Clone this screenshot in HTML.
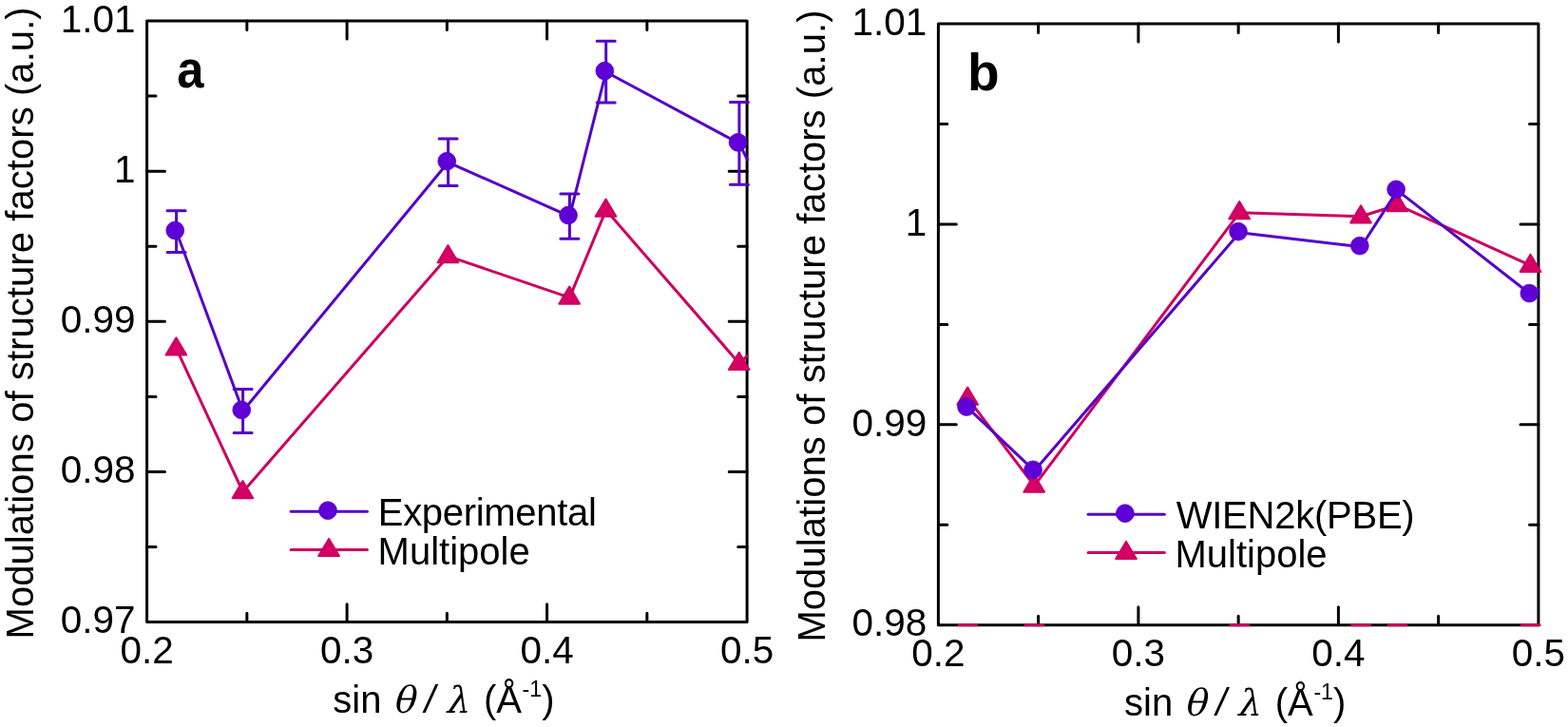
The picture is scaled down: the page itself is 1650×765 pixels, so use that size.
<!DOCTYPE html>
<html lang="en"><head><meta charset="utf-8"><title>Modulations of structure factors</title>
<style>html,body{margin:0;padding:0;background:#fff}body{width:1650px;height:765px;overflow:hidden}svg{display:block}text{font-family:"Liberation Sans",Arial,Helvetica,sans-serif;font-size:40px;fill:#000}.gi{font-family:"DejaVu Math TeX Gyre","DejaVu Serif",serif;font-style:italic;font-size:38.5px}.si{font-style:italic}.tk{font-size:40.5px}.pl{font-weight:bold;font-size:55px}</style></head><body>
<svg width="1650" height="765" viewBox="0 0 1650 765">
<rect width="1650" height="765" fill="#fff"/>
<g id="panel-a">
<path d="M365.10 654.6v-18.9M365.10 22.0v18.9M575.60 654.6v-18.9M575.60 22.0v18.9M259.85 654.6v-9.4M259.85 22.0v9.4M470.35 654.6v-9.4M470.35 22.0v9.4M680.85 654.6v-9.4M680.85 22.0v9.4M154.6 575.52h9.4M786.1 575.52h-9.4M154.6 496.45h18.9M786.1 496.45h-18.9M154.6 417.38h9.4M786.1 417.38h-9.4M154.6 338.30h18.9M786.1 338.30h-18.9M154.6 259.23h9.4M786.1 259.23h-9.4M154.6 180.15h18.9M786.1 180.15h-18.9M154.6 101.08h9.4M786.1 101.08h-9.4" fill="none" stroke="#000" stroke-width="3.0" stroke-linecap="round"/>
<rect x="154.6" y="22.0" width="631.50" height="632.60" fill="none" stroke="#000" stroke-width="3.0" stroke-linejoin="round"/>
<text x="154.60" y="698.3" text-anchor="middle" class="tk">0.2</text>
<text x="365.10" y="698.3" text-anchor="middle" class="tk">0.3</text>
<text x="575.60" y="698.3" text-anchor="middle" class="tk">0.4</text>
<text x="786.10" y="698.3" text-anchor="middle" class="tk">0.5</text>
<text x="142.6" y="666.30" text-anchor="end" class="tk">0.97</text>
<text x="142.6" y="508.15" text-anchor="end" class="tk">0.98</text>
<text x="142.6" y="350.00" text-anchor="end" class="tk">0.99</text>
<text x="142.6" y="191.85" text-anchor="end" class="tk">1</text>
<text x="142.6" y="33.70" text-anchor="end" class="tk">1.01</text>
<text transform="translate(35.2 339.9) rotate(-90)" text-anchor="middle" textLength="665.2">Modulations of structure factors (a.u.)</text>
<text y="749.6"><tspan x="350.3">sin </tspan><tspan x="411.4" class="gi">θ </tspan><tspan x="446.8" class="si">/ </tspan><tspan x="466.3" class="gi">λ </tspan><tspan x="509">(Å</tspan><tspan x="549.6" y="733.1" style="font-size:23.2px">-1</tspan><tspan x="570.3" y="749.6">)</tspan></text>
<text x="186.2" y="91.8" class="pl" textLength="28.2" lengthAdjust="spacingAndGlyphs">a</text>
<path d="M185.60 366.95L255.60 517.60L471.60 269.60L599.40 313.10L637.70 221.10L777.90 382.40L787.10 373.75" fill="none" stroke="#cc0060" stroke-width="3" stroke-linejoin="round" stroke-linecap="butt"/>
<path d="M185.40 355.35L196.25 373.55H174.55Z" fill="#d60064" stroke="#cc0060" stroke-width="2.0" stroke-linejoin="round"/><path d="M255.40 506.00L266.25 524.20H244.55Z" fill="#d60064" stroke="#cc0060" stroke-width="2.0" stroke-linejoin="round"/><path d="M471.40 258.00L482.25 276.20H460.55Z" fill="#d60064" stroke="#cc0060" stroke-width="2.0" stroke-linejoin="round"/><path d="M599.20 301.50L610.05 319.70H588.35Z" fill="#d60064" stroke="#cc0060" stroke-width="2.0" stroke-linejoin="round"/><path d="M637.50 209.50L648.35 227.70H626.65Z" fill="#d60064" stroke="#cc0060" stroke-width="2.0" stroke-linejoin="round"/><path d="M777.70 370.80L788.55 389.00H766.85Z" fill="#d60064" stroke="#cc0060" stroke-width="2.0" stroke-linejoin="round"/>
<path d="M185.60 221.80V265.40M176.10 221.80h19M176.10 265.40h19M255.60 409.50V455.50M246.10 409.50h19M246.10 455.50h19M471.60 146.10V195.50M462.10 146.10h19M462.10 195.50h19M599.40 203.90V251.30M589.90 203.90h19M589.90 251.30h19M637.70 43.30V108.10M628.20 43.30h19M628.20 108.10h19M777.90 107.50V194.30M768.40 107.50h19M768.40 194.30h19" fill="none" stroke="#5500c8" stroke-width="3" stroke-linecap="round"/>
<path d="M185.60 243.60L255.60 432.50L471.60 170.80L599.40 227.60L637.70 75.70L777.90 150.90L787.10 169.30" fill="none" stroke="#5500c8" stroke-width="3" stroke-linejoin="round" stroke-linecap="butt"/>
<circle cx="184.25" cy="242.50" r="9.4" fill="#5f00d6" stroke="#5500c8" stroke-width="0.8"/><circle cx="254.25" cy="431.40" r="9.4" fill="#5f00d6" stroke="#5500c8" stroke-width="0.8"/><circle cx="470.25" cy="169.70" r="9.4" fill="#5f00d6" stroke="#5500c8" stroke-width="0.8"/><circle cx="598.05" cy="226.50" r="9.4" fill="#5f00d6" stroke="#5500c8" stroke-width="0.8"/><circle cx="636.35" cy="74.60" r="9.4" fill="#5f00d6" stroke="#5500c8" stroke-width="0.8"/><circle cx="776.55" cy="149.80" r="9.4" fill="#5f00d6" stroke="#5500c8" stroke-width="0.8"/>
<path d="M306.2 538.2H386.4" stroke="#5500c8" stroke-width="3" stroke-linecap="round"/>
<circle cx="345.00" cy="537.20" r="9.4" fill="#5f00d6" stroke="#5500c8" stroke-width="0.8"/>
<path d="M306.2 578.5H386.4" stroke="#cc0060" stroke-width="3" stroke-linecap="round"/>
<path d="M346.10 566.90L356.95 585.10H335.25Z" fill="#d60064" stroke="#cc0060" stroke-width="2.0" stroke-linejoin="round"/>
<text x="397.8" y="552.9" textLength="230.1">Experimental</text>
<text x="397.6" y="593.5">Multipole</text>
</g>
<g id="panel-b" transform="translate(832.8 3.1)">
<path d="M365.10 654.6v-18.9M365.10 22.0v18.9M575.60 654.6v-18.9M575.60 22.0v18.9M259.85 654.6v-9.4M259.85 22.0v9.4M470.35 654.6v-9.4M470.35 22.0v9.4M680.85 654.6v-9.4M680.85 22.0v9.4M154.6 549.17h9.4M786.1 549.17h-9.4M154.6 443.73h18.9M786.1 443.73h-18.9M154.6 338.30h9.4M786.1 338.30h-9.4M154.6 232.87h18.9M786.1 232.87h-18.9M154.6 127.43h9.4M786.1 127.43h-9.4" fill="none" stroke="#000" stroke-width="3.0" stroke-linecap="round"/>
<rect x="154.6" y="22.0" width="631.50" height="632.60" fill="none" stroke="#000" stroke-width="3.0" stroke-linejoin="round"/>
<text x="154.60" y="698.3" text-anchor="middle" class="tk">0.2</text>
<text x="365.10" y="698.3" text-anchor="middle" class="tk">0.3</text>
<text x="575.60" y="698.3" text-anchor="middle" class="tk">0.4</text>
<text x="786.10" y="698.3" text-anchor="middle" class="tk">0.5</text>
<text x="142.6" y="666.30" text-anchor="end" class="tk">0.98</text>
<text x="142.6" y="455.43" text-anchor="end" class="tk">0.99</text>
<text x="142.6" y="244.57" text-anchor="end" class="tk">1</text>
<text x="142.6" y="33.70" text-anchor="end" class="tk">1.01</text>
<text transform="translate(35.2 339.9) rotate(-90)" text-anchor="middle" textLength="665.2">Modulations of structure factors (a.u.)</text>
<text y="749.6"><tspan x="350.3">sin </tspan><tspan x="411.4" class="gi">θ </tspan><tspan x="446.8" class="si">/ </tspan><tspan x="466.3" class="gi">λ </tspan><tspan x="509">(Å</tspan><tspan x="549.6" y="733.1" style="font-size:23.2px">-1</tspan><tspan x="570.3" y="749.6">)</tspan></text>
<text x="185.3" y="91.6" class="pl">b</text>
<path d="M176.20 654.6h18.8M246.20 654.6h18.8M462.20 654.6h18.8M590.00 654.6h18.8M628.30 654.6h18.8M768.50 654.6h18.8" stroke="#cc0060" stroke-width="3" stroke-linecap="round"/>
<path d="M185.60 416.00L255.60 508.00L471.60 220.60L599.40 224.70L637.70 212.60L777.90 276.30" fill="none" stroke="#cc0060" stroke-width="3" stroke-linejoin="round" stroke-linecap="butt"/>
<path d="M185.40 404.40L196.25 422.60H174.55Z" fill="#d60064" stroke="#cc0060" stroke-width="2.0" stroke-linejoin="round"/><path d="M255.40 496.40L266.25 514.60H244.55Z" fill="#d60064" stroke="#cc0060" stroke-width="2.0" stroke-linejoin="round"/><path d="M471.40 209.00L482.25 227.20H460.55Z" fill="#d60064" stroke="#cc0060" stroke-width="2.0" stroke-linejoin="round"/><path d="M599.20 213.10L610.05 231.30H588.35Z" fill="#d60064" stroke="#cc0060" stroke-width="2.0" stroke-linejoin="round"/><path d="M637.50 201.00L648.35 219.20H626.65Z" fill="#d60064" stroke="#cc0060" stroke-width="2.0" stroke-linejoin="round"/><path d="M777.70 264.70L788.55 282.90H766.85Z" fill="#d60064" stroke="#cc0060" stroke-width="2.0" stroke-linejoin="round"/>
<path d="M185.60 426.00L255.60 492.30L471.60 241.70L599.40 256.70L637.70 197.30L777.90 306.60L787.10 301.08" fill="none" stroke="#5500c8" stroke-width="3" stroke-linejoin="round" stroke-linecap="butt"/>
<circle cx="184.25" cy="424.90" r="9.4" fill="#5f00d6" stroke="#5500c8" stroke-width="0.8"/><circle cx="254.25" cy="491.20" r="9.4" fill="#5f00d6" stroke="#5500c8" stroke-width="0.8"/><circle cx="470.25" cy="240.60" r="9.4" fill="#5f00d6" stroke="#5500c8" stroke-width="0.8"/><circle cx="598.05" cy="255.60" r="9.4" fill="#5f00d6" stroke="#5500c8" stroke-width="0.8"/><circle cx="636.35" cy="196.20" r="9.4" fill="#5f00d6" stroke="#5500c8" stroke-width="0.8"/><circle cx="776.55" cy="305.50" r="9.4" fill="#5f00d6" stroke="#5500c8" stroke-width="0.8"/>
<g transform="translate(6.1 -0.1)">
<path d="M306.2 538.2H386.4" stroke="#5500c8" stroke-width="3" stroke-linecap="round"/>
<circle cx="345.00" cy="537.20" r="9.4" fill="#5f00d6" stroke="#5500c8" stroke-width="0.8"/>
<path d="M306.2 578.5H386.4" stroke="#cc0060" stroke-width="3" stroke-linecap="round"/>
<path d="M346.10 566.90L356.95 585.10H335.25Z" fill="#d60064" stroke="#cc0060" stroke-width="2.0" stroke-linejoin="round"/>
<text x="398.8" y="552.9" textLength="251.0">WIEN2k(PBE)</text>
<text x="397.6" y="593.5">Multipole</text>
</g>
</g>
</svg></body></html>
